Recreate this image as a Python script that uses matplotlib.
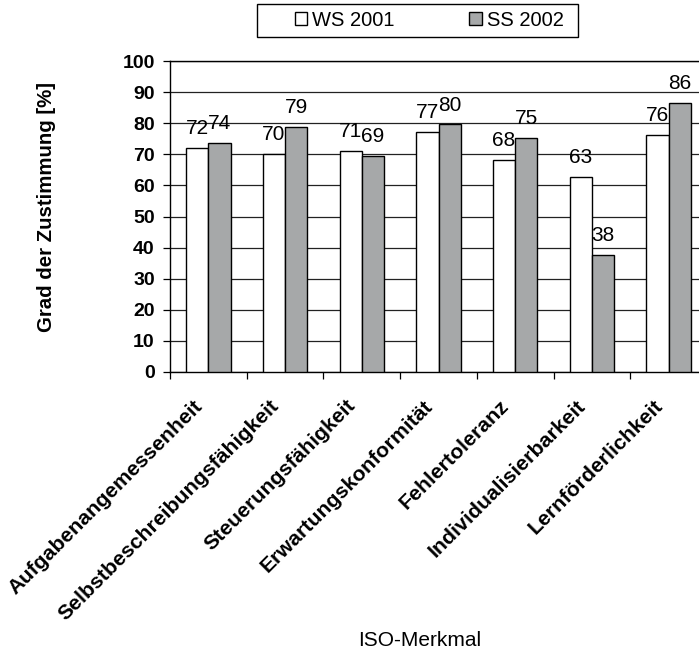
import numpy as np
import matplotlib.pyplot as plt
from matplotlib.patches import Rectangle
from matplotlib.ticker import MultipleLocator
from matplotlib.transforms import ScaledTranslation, blended_transform_factory

plt.rcParams['font.family'] = ['Liberation Sans', 'DejaVu Sans']

# data
categories = ["Aufgabenangemessenheit", "Selbstbeschreibungsfähigkeit",
              "Steuerungsfähigkeit", "Erwartungskonformität", "Fehlertoleranz",
              "Individualisierbarkeit", "Lernförderlichkeit"]
ws_2001 = [72.1, 70.1, 71.0, 77.2, 68.3, 62.7, 76.1]
ss_2002 = [73.6, 78.8, 69.4, 79.6, 75.4, 37.5, 86.4]
series_names = ["WS 2001", "SS 2002"]

W, H = 699, 650
fig = plt.figure(figsize=(W / 100, H / 100), dpi=100)
# plot area runs past the right edge of the picture, as in the reference
ax = fig.add_axes([170 / W, 1 - 372 / H, 537 / W, 311 / H])

x = np.arange(len(categories))
bw = 0.29
b1 = ax.bar(x - bw / 2, ws_2001, bw, color='white', edgecolor='black',
            linewidth=1.0, zorder=3, label=series_names[0])
b2 = ax.bar(x + bw / 2, ss_2002, bw, color='#A6A8A9', edgecolor='black',
            linewidth=1.0, zorder=3, label=series_names[1])

for bars, vals in ((b1, ws_2001), (b2, ss_2002)):
    for r, v in zip(bars, vals):
        ax.annotate(f"{v:.0f}", (r.get_x() + r.get_width() / 2, v),
                    xytext=(0, 10), textcoords='offset points',
                    ha='center', va='baseline', fontsize=15)

ax.set_xlim(-0.5, len(categories) - 0.5)
ax.set_ylim(0, 100)
ax.yaxis.set_major_locator(MultipleLocator(10))
ax.grid(axis='y', color='#222222', linewidth=0.9, zorder=0)
ax.set_axisbelow(True)

# category names as rotated texts, ticks only at category boundaries
ax.set_xticks(x)
ax.set_xticklabels([])
ax.set_xticks(np.arange(len(categories) + 1) - 0.5, minor=True)
ax.tick_params(axis='x', which='major', length=0)
ax.tick_params(axis='x', which='minor', length=5, width=0.9, direction='out')
lab_tr = blended_transform_factory(ax.transData, ax.transAxes) + \
    ScaledTranslation(-9 / 100, -31 / 100, fig.dpi_scale_trans)
for xi, name in zip(x, categories):
    ax.text(xi, 0, name, transform=lab_tr, rotation=45, ha='right',
            va='center', rotation_mode='anchor', fontsize=15.3,
            fontweight='bold', clip_on=False)

ax.tick_params(axis='y', length=5, width=0.9, direction='out', pad=6,
               labelsize=14)
for t in ax.get_yticklabels():
    t.set_fontweight('bold')

for s in ('left', 'bottom', 'top'):
    ax.spines[s].set_linewidth(1.0)
ax.spines['right'].set_visible(False)

fig.text(46 / W, 1 - 207 / H, "Grad der Zustimmung [%]", rotation=90,
         ha='center', va='center', fontsize=14.7, fontweight='bold')
fig.text(420 / W, 1 - 640 / H, "ISO-Merkmal", ha='center', va='center',
         fontsize=15)

leg = fig.legend(handles=[b1, b2], loc='center', ncol=2,
                 bbox_to_anchor=(429 / W, 1 - 20.5 / H), frameon=False,
                 fontsize=14.5, handlelength=0.62, handleheight=0.62,
                 handletextpad=0.25, columnspacing=3.7, borderpad=0)
fig.patches.append(Rectangle((257 / W, 1 - 37 / H), 321 / W, 33 / H,
                             transform=fig.transFigure, fill=False,
                             edgecolor='black', linewidth=1.0))

fig.savefig("out.png", dpi=100)
